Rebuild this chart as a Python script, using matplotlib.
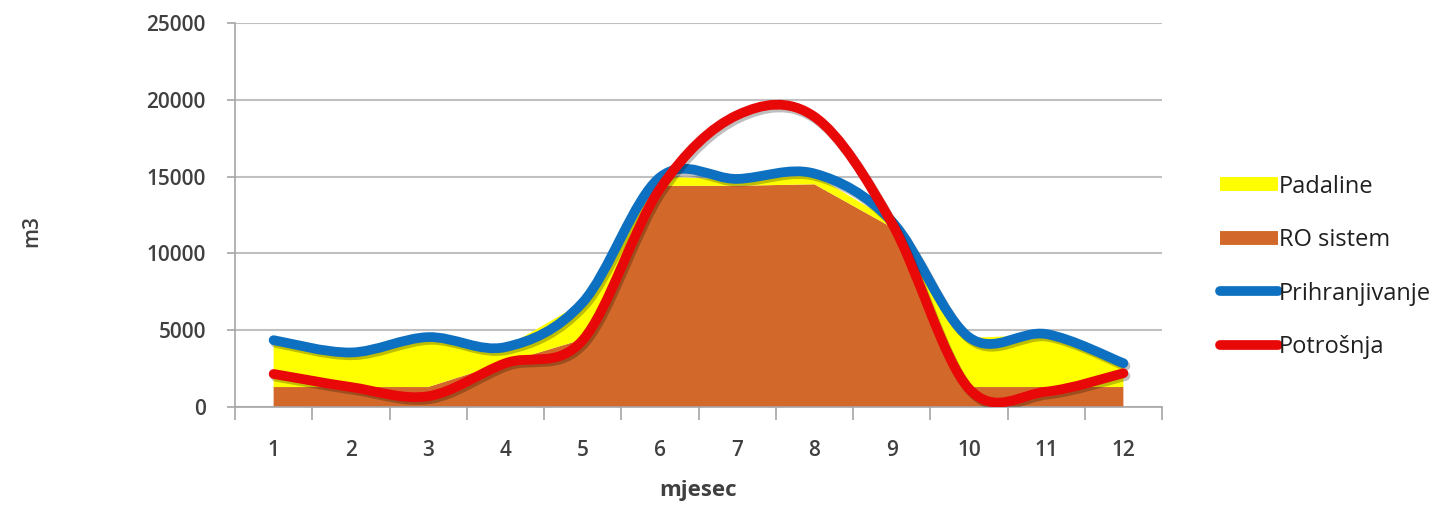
import matplotlib
matplotlib.use('Agg')
import matplotlib.pyplot as plt
import matplotlib.patheffects as pe
from matplotlib.path import Path
from matplotlib.patches import PathPatch
from matplotlib.lines import Line2D

# data (m3 per month)
months = [1, 2, 3, 4, 5, 6, 7, 8, 9, 10, 11, 12]
ro_sistem = [1300, 1300, 1300, 2900, 4400, 14400, 14400, 14500, 11700, 1300, 1300, 1300]
padaline = [3000, 2300, 3200, 1000, 2400, 600, 400, 600, 400, 3200, 3400, 1500]
prihranjivanje = [4350, 3550, 4550, 3900, 6800, 14950, 14850, 15200, 12100, 4550, 4750, 2850]
potrosnja = [2150, 1300, 700, 2850, 4350, 14200, 19000, 18900, 12000, 1200, 1000, 2200]

c_yellow = '#FFFF00'
c_brown = '#D2692A'
c_blue = '#0E70C0'
c_red = '#E80808'
c_grid = '#C0C0C0'
c_text = '#404040'

plt.rcParams['font.family'] = ['Open Sans', 'DejaVu Sans']


def smooth_path(xs, ys):
    # Excel style smoothed line: cubic bezier through every point
    n = len(xs)
    verts = [(xs[0], ys[0])]
    codes = [Path.MOVETO]
    for i in range(n - 1):
        i0 = max(i - 1, 0)
        i3 = min(i + 2, n - 1)
        c1 = (xs[i] + (xs[i + 1] - xs[i0]) / 6.0, ys[i] + (ys[i + 1] - ys[i0]) / 6.0)
        c2 = (xs[i + 1] - (xs[i3] - xs[i]) / 6.0, ys[i + 1] - (ys[i3] - ys[i]) / 6.0)
        verts += [c1, c2, (xs[i + 1], ys[i + 1])]
        codes += [Path.CURVE4] * 3
    return Path(verts, codes)


fig = plt.figure(figsize=(14.47, 5.07), dpi=100)
ax = fig.add_axes([235 / 1447, 1 - 407 / 507, 927 / 1447, 384 / 507])

# stacked areas
ax.stackplot(months, ro_sistem, padaline, colors=[c_brown, c_yellow], zorder=2)

# smoothed lines with a light shadow
shadow = [pe.SimpleLineShadow(offset=(1.5, -2), shadow_color='#000000', alpha=0.25), pe.Normal()]
for vals, col in [(prihranjivanje, c_blue), (potrosnja, c_red)]:
    patch = PathPatch(smooth_path(months, vals), fill=False, edgecolor=col, lw=7,
                      capstyle='round', joinstyle='round', zorder=3)
    patch.set_path_effects(shadow)
    ax.add_patch(patch)

# axes styling
ax.set_xlim(0.5, 12.5)
ax.set_ylim(0, 25000)
ax.set_yticks(range(0, 25001, 5000))
ax.yaxis.grid(True, color=c_grid, lw=1.5)
ax.set_axisbelow(True)
for s in ['top', 'right']:
    ax.spines[s].set_visible(False)
for s in ['left', 'bottom']:
    ax.spines[s].set_color('#A6A6A6')
    ax.spines[s].set_linewidth(1.2)

# category boundaries as major ticks, labels on minor ticks
ax.set_xticks([m + 0.5 for m in [0] + months])
ax.set_xticklabels([])
ax.set_xticks(months, minor=True)
ax.set_xticklabels([str(m) for m in months], minor=True)
ax.tick_params(axis='x', which='major', length=9, width=1.2, color='#A6A6A6')
ax.tick_params(axis='x', which='minor', length=0, pad=24, labelsize=15, labelcolor=c_text)
ax.tick_params(axis='y', length=6, width=1.2, color='#A6A6A6', pad=15, labelsize=15,
               labelcolor=c_text)
for lab in ax.get_xticklabels(minor=True) + ax.get_yticklabels():
    lab.set_fontweight('semibold')

ax.set_xlabel('mjesec', fontsize=16, fontweight='bold', color=c_text)
ax.xaxis.set_label_coords(0.5, -0.19)
ax.set_ylabel('m3', fontsize=15, fontweight='semibold', color=c_text)
ax.yaxis.set_label_coords(-0.208, 0.458)

# legend on the right
handles = [
    Line2D([], [], color=c_yellow, lw=10, solid_capstyle='butt'),
    Line2D([], [], color=c_brown, lw=10, solid_capstyle='butt'),
    Line2D([], [], color=c_blue, lw=7, solid_capstyle='round'),
    Line2D([], [], color=c_red, lw=7, solid_capstyle='round'),
]
labels = ['Padaline', 'RO sistem', 'Prihranjivanje', 'Potrošnja']
fig.legend(handles, labels, loc='center left', bbox_to_anchor=(1208 / 1447, 1 - 267 / 507),
           frameon=False, fontsize=17, handlelength=2.45, handletextpad=0.05,
           labelspacing=1.25, borderpad=0, labelcolor='#202020')

fig.savefig('out.png', dpi=100)
